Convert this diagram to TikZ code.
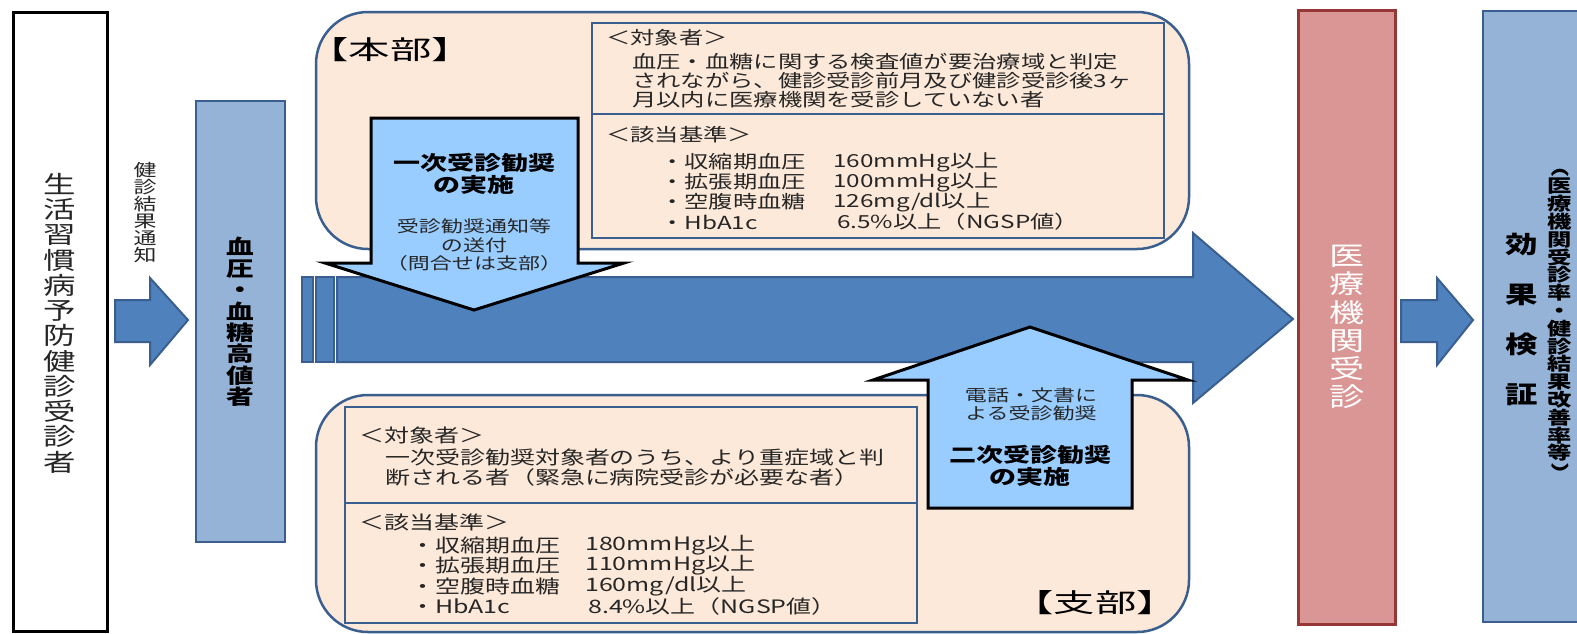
\documentclass[tikz,border=0pt]{standalone}
\usepackage{fontspec}
\setmainfont{Noto Sans CJK JP}[FakeStretch=1.35]
\definecolor{peach}{HTML}{FDE9D9}
\definecolor{navy}{HTML}{3A5F8F}
\definecolor{arrowblue}{HTML}{4F81BD}
\definecolor{paleblue}{HTML}{95B3D7}
\definecolor{skyblue}{HTML}{99CCFF}
\definecolor{rosefill}{HTML}{D99694}
\definecolor{rosedraw}{HTML}{953735}
\definecolor{inktext}{HTML}{262626}
\begin{document}
\begin{tikzpicture}[x=1pt,y=-1pt,
  vtext/.style={align=center, inner sep=0pt, text=inktext},
  ltext/.style={anchor=west, inner sep=0pt, text=inktext, font=\fontsize{18}{19.5}\selectfont},
  btext/.style={anchor=west, inner sep=0pt, text=inktext, font=\fontsize{18.5}{20}\selectfont},
  headtext/.style={inner sep=0pt, text=black, font=\fontsize{26}{28}\selectfont},
  container/.style={fill=peach, draw=navy, line width=2.5pt, rounded corners=52pt},
  infobox/.style={draw=navy, line width=2.5pt},
  blockarrow/.style={fill=arrowblue, draw=navy, line width=2pt, line join=miter},
  lightarrow/.style={fill=skyblue, draw=black, line width=3pt, line join=miter},
  atitle/.style={align=center, inner sep=0pt, text=black, font=\bfseries\fontsize{20}{22}\selectfont},
  asmall/.style={align=center, inner sep=0pt, text=inktext, font=\fontsize{16.3}{18.2}\selectfont}
]
\useasboundingbox (0,0) rectangle (1577,633);
\fill[white] (0,0) rectangle (1577,633);

% ---------- left column ----------
\draw[line width=3pt] (13,12) rectangle (107,631);
\node[vtext, font=\fontsize{24}{25.25}\selectfont] (examinees) at (60,323)
  {生\\活\\習\\慣\\病\\予\\防\\健\\診\\受\\診\\者};

\node[vtext, font=\fontsize{17}{17}\selectfont] (notice) at (145,213)
  {健\\診\\結\\果\\通\\知};

\draw[blockarrow] (115,300) -- (150,300) -- (150,278) -- (188,320) -- (150,365) -- (150,342) -- (115,342) -- cycle;

\draw[fill=paleblue, draw=navy, line width=2.5pt] (196,101) rectangle (285,542);
\node[vtext, text=black, font=\bfseries\fontsize{20.5}{21.4}\selectfont] (high) at (240,322)
  {血\\圧\\・\\血\\糖\\高\\値\\者};

% ---------- containers ----------
\draw[container] (316,12) rectangle (1189,249);
\draw[container] (316,395) rectangle (1189,632);

% ---------- top info box ----------
\draw[infobox] (592,23) rectangle (1164,238);
\draw[infobox] (592,114) -- (1164,114);
\node[ltext] (t1) at (606,38) {＜対象者＞};
\node[ltext] (t2) at (632,62) {血圧・血糖に関する検査値が要治療域と判定};
\node[ltext] (t3) at (632,81) {されながら、健診受診前月及び健診受診後3ヶ};
\node[ltext] (t4) at (632,100) {月以内に医療機関を受診していない者};
\node[ltext] (t5) at (606,135) {＜該当基準＞};
\node[ltext] (t6) at (660,162) {・収縮期血圧};
\node[ltext] (t7) at (660,182) {・拡張期血圧};
\node[ltext] (t8) at (660,202) {・空腹時血糖};
\node[ltext] (t9) at (660,222) {・HbA1c};
\node[ltext] (v6) at (833,162) {160mmHg以上};
\node[ltext] (v7) at (833,182) {100mmHg以上};
\node[ltext] (v8) at (833,202) {126mg/dl以上};
\node[ltext] (v9) at (837,222) {6.5\%以上（NGSP値）};

\node[headtext] (honbu) at (390,50) {\scalebox{1.18}[1]{【本部】}};

% ---------- bottom info box ----------
\draw[infobox] (345,407) rectangle (917,623);
\draw[infobox] (345,503) -- (917,503);
\node[btext] (b1) at (359,435) {＜対象者＞};
\node[btext] (b2) at (385,457) {一次受診勧奨対象者のうち、より重症域と判};
\node[btext] (b3) at (385,477) {断される者（緊急に病院受診が必要な者）};
\node[btext] (b5) at (359,522) {＜該当基準＞};
\node[btext] (b6) at (410,545) {・収縮期血圧};
\node[btext] (b7) at (410,565) {・拡張期血圧};
\node[btext] (b8) at (410,586) {・空腹時血糖};
\node[btext] (b9) at (410,606) {・HbA1c};
\node[btext] (w6) at (585,545) {180mmHg以上};
\node[btext] (w7) at (585,565) {110mmHg以上};
\node[btext] (w8) at (585,586) {160mg/dl以上};
\node[btext] (w9) at (588,606) {8.4\%以上（NGSP値）};

\node[headtext] (shibu) at (1095,603) {\scalebox{1.18}[1]{【支部】}};

% ---------- big arrow ----------
\draw[blockarrow] (302,277) rectangle (313,362);
\draw[blockarrow] (316,277) rectangle (334,362);
\draw[blockarrow] (337,277) -- (1193,277) -- (1193,233) -- (1293,319) -- (1193,403) -- (1193,362) -- (337,362) -- cycle;

% ---------- first recommendation (down arrow) ----------
\draw[lightarrow] (371,118) -- (578,118) -- (578,263) -- (624,263) -- (474,310) -- (325,263) -- (371,263) -- cycle;
\node[atitle] (first) at (474,174) {一次受診勧奨\\の実施};
\node[asmall] (firstsub) at (474,245) {受診勧奨通知等\\の送付\\（問合せは支部）};

% ---------- second recommendation (up arrow) ----------
\draw[lightarrow] (928,508) -- (1132,508) -- (1132,380) -- (1188,380) -- (1030,327) -- (873,380) -- (928,380) -- cycle;
\node[asmall] (secondsub) at (1031,404) {電話・文書に\\よる受診勧奨};
\node[atitle] (second) at (1030,466) {二次受診勧奨\\の実施};

% ---------- right columns ----------
\draw[fill=rosefill, draw=rosedraw, line width=3pt] (1298,10) rectangle (1395,624);
\node[vtext, text=white, font=\fontsize{26}{28.2}\selectfont] (visit) at (1347,327)
  {医\\療\\機\\関\\受\\診};

\draw[blockarrow] (1401,300) -- (1437,300) -- (1437,278) -- (1473,320) -- (1437,365) -- (1437,342) -- (1401,342) -- cycle;

\draw[fill=paleblue, draw=navy, line width=2.5pt] (1483,11) rectangle (1590,622);
\node[vtext, text=black, font=\bfseries\fontsize{24}{50}\selectfont] (effect) at (1522,319)
  {効\\果\\検\\証};
\node[vtext, text=black, font=\bfseries\fontsize{18}{17.8}\selectfont] (rates) at (1560,320)
  {\rotatebox[origin=c]{-90}{（}\\医\\療\\機\\関\\受\\診\\率\\・\\健\\診\\結\\果\\改\\善\\率\\等\\\rotatebox[origin=c]{-90}{）}};
\end{tikzpicture}
\end{document}
